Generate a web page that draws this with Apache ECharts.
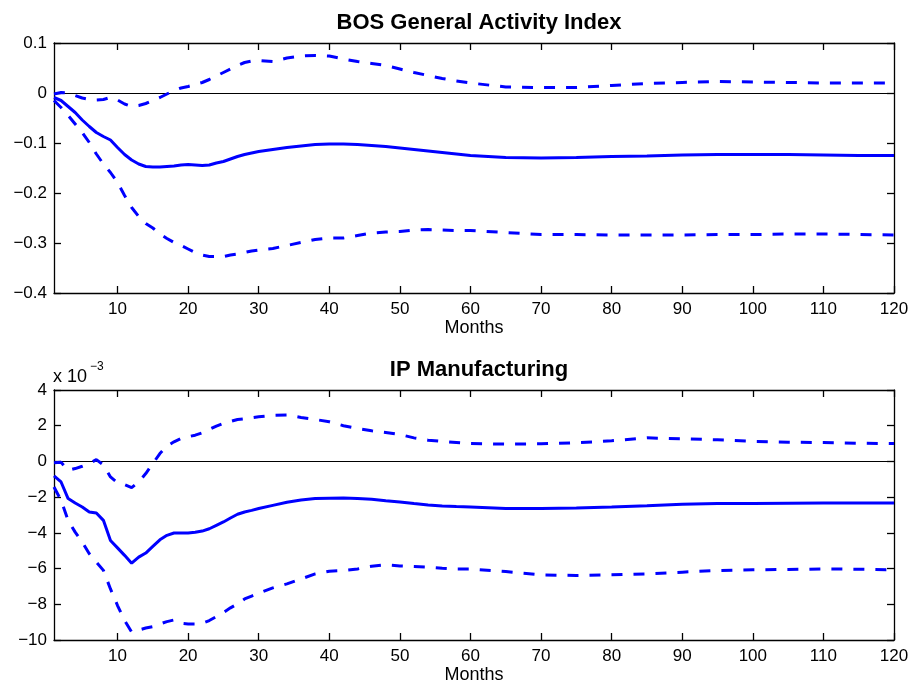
<!DOCTYPE html>
<html>
<head>
<meta charset="utf-8">
<script src="https://cdn.jsdelivr.net/npm/echarts@6/dist/echarts.min.js"></script>
<style>
html,body{margin:0;padding:0;background:#fff;}
#chart{width:911px;height:680px;}
</style>
</head>
<body>
<div id="chart"></div>
<script>
// ---- Data ----
const months = [1,2,3,4,5,6,7,8,9,10,11,12,13,14,15,16,17,18,19,20,21,22,23,24,25,26,27,28,29,30,
  32,34,36,38,40,42,44,46,48,50,52,54,56,58,
  60,65,70,75,80,85,90,95,100,105,110,115,120];

const xTickValues = [10,20,30,40,50,60,70,80,90,100,110,120];

const bosTitle = 'BOS General Activity Index';
const ipTitle = 'IP Manufacturing';
const xName = 'Months';

const bosMedian = [-0.009,-0.015,-0.027,-0.039,-0.054,-0.067,-0.079,-0.087,-0.094,-0.109,-0.123,-0.134,-0.142,-0.147,-0.148,-0.148,-0.147,-0.146,-0.144,-0.143,-0.144,-0.145,-0.144,-0.140,-0.137,-0.132,-0.127,-0.123,-0.120,-0.117,
  -0.113,-0.109,-0.106,-0.103,-0.102,-0.102,-0.103,-0.105,-0.107,-0.110,-0.113,-0.116,-0.119,-0.122,
  -0.125,-0.129,-0.130,-0.129,-0.127,-0.126,-0.124,-0.123,-0.123,-0.123,-0.124,-0.125,-0.125];
const bosUpper = [-0.002,0.001,0.000,-0.005,-0.010,-0.013,-0.014,-0.013,-0.009,-0.014,-0.022,-0.027,-0.025,-0.021,-0.015,-0.009,-0.002,0.005,0.010,0.013,0.017,0.021,0.027,0.034,0.041,0.048,0.055,0.061,0.064,0.065,
  0.063,0.070,0.074,0.075,0.074,0.068,0.063,0.059,0.055,0.048,0.041,0.035,0.029,0.024,
  0.020,0.012,0.011,0.011,0.015,0.019,0.021,0.023,0.022,0.021,0.020,0.020,0.020];
const bosLower = [-0.015,-0.029,-0.045,-0.062,-0.079,-0.099,-0.122,-0.142,-0.159,-0.179,-0.205,-0.229,-0.247,-0.261,-0.270,-0.282,-0.291,-0.299,-0.305,-0.312,-0.319,-0.324,-0.327,-0.327,-0.327,-0.324,-0.322,-0.319,-0.316,-0.314,
  -0.311,-0.305,-0.299,-0.293,-0.290,-0.290,-0.285,-0.280,-0.278,-0.277,-0.274,-0.273,-0.274,-0.275,
  -0.275,-0.279,-0.283,-0.283,-0.284,-0.284,-0.284,-0.283,-0.283,-0.282,-0.282,-0.283,-0.284];

// IP Manufacturing, in units of 1e-3
const ipMedian = [-0.81,-1.15,-2.08,-2.33,-2.55,-2.83,-2.89,-3.30,-4.43,-4.84,-5.26,-5.70,-5.36,-5.13,-4.76,-4.39,-4.14,-4.01,-4.01,-4.01,-3.97,-3.90,-3.77,-3.58,-3.39,-3.17,-2.96,-2.83,-2.74,-2.64,
  -2.46,-2.29,-2.16,-2.08,-2.06,-2.05,-2.07,-2.12,-2.20,-2.27,-2.36,-2.44,-2.49,-2.53,
  -2.55,-2.64,-2.64,-2.61,-2.55,-2.48,-2.40,-2.36,-2.35,-2.34,-2.33,-2.33,-2.33];
const ipUpper = [-0.08,-0.05,-0.50,-0.40,-0.27,-0.12,0.10,-0.20,-0.87,-1.20,-1.30,-1.47,-1.15,-0.68,-0.12,0.44,0.86,1.10,1.29,1.38,1.47,1.60,1.79,1.98,2.13,2.24,2.35,2.39,2.45,2.50,
  2.58,2.60,2.46,2.35,2.22,2.00,1.85,1.72,1.62,1.51,1.32,1.19,1.12,1.06,
  1.00,0.97,0.99,1.04,1.16,1.32,1.27,1.21,1.12,1.08,1.06,1.02,1.00];
const ipLower = [-1.43,-2.18,-3.30,-3.96,-4.52,-5.17,-5.64,-6.10,-7.14,-8.07,-8.91,-9.55,-9.44,-9.33,-9.25,-9.10,-8.97,-8.88,-9.06,-9.10,-9.10,-9.06,-8.91,-8.69,-8.46,-8.20,-7.98,-7.70,-7.54,-7.38,
  -7.08,-6.86,-6.58,-6.30,-6.15,-6.11,-6.02,-5.87,-5.79,-5.85,-5.88,-5.92,-5.98,-6.02,
  -6.02,-6.17,-6.35,-6.39,-6.35,-6.30,-6.20,-6.11,-6.07,-6.05,-6.02,-6.04,-6.07];

// ---- Chart ----
const FONT = '"Liberation Sans", Arial, sans-serif';
const BLUE = '#0000ff';
const pair = arr => months.map((m, i) => [m, arr[i]]);
const fmtNum = v => {
  const r = Math.round(v * 1000) / 1000;
  return String(r).replace('-', '\u2212');
};

const grids = [
  {left: 54, right: 17, top: 43, height: 250, outerBoundsMode: 'none', containLabel: false},
  {left: 54, right: 17, top: 390, height: 250, outerBoundsMode: 'none', containLabel: false}
];

function xAxes(gi, nameGap) {
  const common = {
    type: 'value', gridIndex: gi, min: 1, max: 120,
    axisLine: {show: true, onZero: false, lineStyle: {color: '#000', width: 1.3}},
    splitLine: {show: false}
  };
  return [
    Object.assign({}, common, {
      position: 'bottom',
      name: xName, nameLocation: 'middle', nameGap: nameGap,
      nameTextStyle: {fontFamily: FONT, fontSize: 18, color: '#000'},
      axisTick: {show: true, inside: true, length: 7, customValues: xTickValues, lineStyle: {color: '#000', width: 1.3}},
      axisLabel: {show: true, customValues: xTickValues, fontFamily: FONT, fontSize: 17, color: '#000', margin: 8}
    }),
    Object.assign({}, common, {
      position: 'top',
      axisTick: {show: true, inside: true, length: 7, customValues: xTickValues, lineStyle: {color: '#000', width: 1.3}},
      axisLabel: {show: false}
    })
  ];
}

function yAxes(gi, min, max, interval) {
  const common = {
    type: 'value', gridIndex: gi, min: min, max: max, interval: interval,
    axisLine: {show: true, onZero: false, lineStyle: {color: '#000', width: 1.3}},
    axisTick: {show: true, inside: true, length: 7, lineStyle: {color: '#000', width: 1.3}},
    splitLine: {show: false}
  };
  return [
    Object.assign({}, common, {
      position: 'left',
      axisLabel: {show: true, formatter: fmtNum, fontFamily: FONT, fontSize: 17, color: '#000', margin: 7}
    }),
    Object.assign({}, common, {position: 'right', axisLabel: {show: false}})
  ];
}

function lineSeries(xi, yi, data, dashed, zero) {
  const s = {
    type: 'line', xAxisIndex: xi, yAxisIndex: yi,
    data: pair(data), showSymbol: false, symbol: 'none', smooth: false,
    lineStyle: {color: BLUE, width: 3, type: dashed ? [11, 11] : 'solid', cap: 'butt'},
    z: 3
  };
  if (zero) {
    s.markLine = {
      silent: true, symbol: ['none', 'none'], label: {show: false},
      lineStyle: {color: '#000', width: 1, type: 'solid'},
      data: [{yAxis: 0}], z: 2
    };
  }
  return s;
}

const chart = echarts.init(document.getElementById('chart'), null, {renderer: 'canvas'});
chart.setOption({
  animation: false,
  backgroundColor: '#fff',
  title: [
    {text: bosTitle, left: 474, top: 7, textAlign: 'center',
      textStyle: {fontFamily: FONT, fontSize: 22, fontWeight: 'bold', color: '#000'}},
    {text: ipTitle, left: 474, top: 354, textAlign: 'center',
      textStyle: {fontFamily: FONT, fontSize: 22, fontWeight: 'bold', color: '#000'}}
  ],
  grid: grids,
  xAxis: xAxes(0, 26).concat(xAxes(1, 26)),
  yAxis: yAxes(0, -0.4, 0.1, 0.1).concat(yAxes(1, -10, 4, 2)),
  series: [
    lineSeries(0, 0, bosMedian, false, true),
    lineSeries(0, 0, bosUpper, true, false),
    lineSeries(0, 0, bosLower, true, false),
    lineSeries(2, 2, ipMedian, false, true),
    lineSeries(2, 2, ipUpper, true, false),
    lineSeries(2, 2, ipLower, true, false)
  ],
  graphic: [
    {type: 'text', left: 53, top: 368, style: {text: 'x 10', font: '18px ' + FONT, fill: '#000'}},
    {type: 'text', left: 90, top: 361, style: {text: '\u22123', font: '12px ' + FONT, fill: '#000'}}
  ]
});
</script>
</body>
</html>
